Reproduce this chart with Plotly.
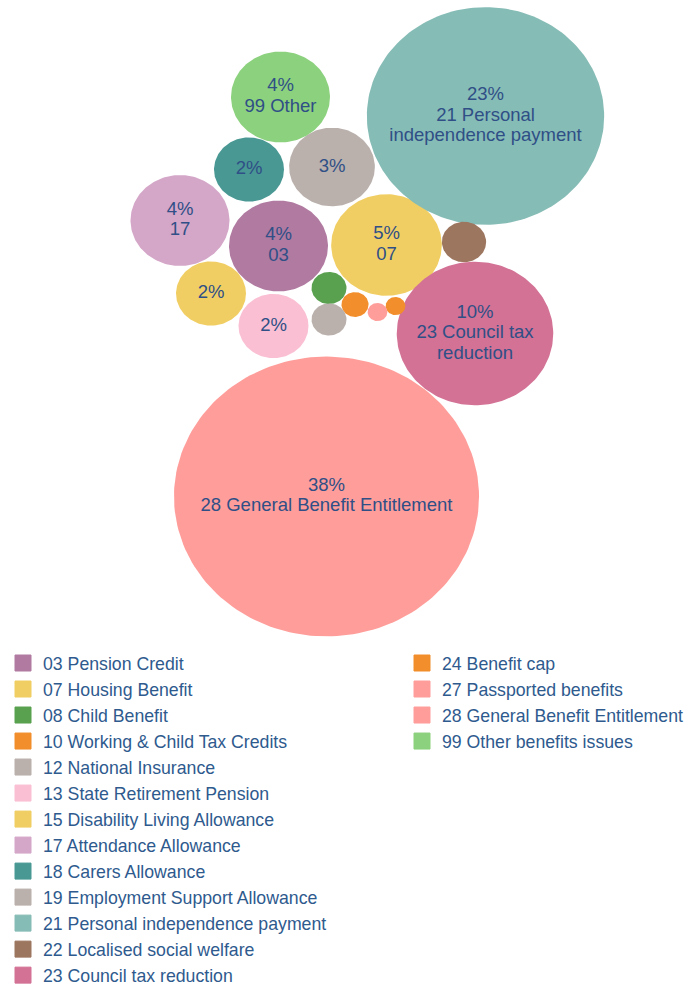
import numpy as np
import plotly.graph_objects as go

# ---- data -------------------------------------------------------------
codes = ["03", "07", "08", "10", "12", "13", "15", "17", "18", "19",
         "21", "22", "23", "24", "27", "28", "99"]
names = ["03 Pension Credit", "07 Housing Benefit", "08 Child Benefit",
         "10 Working & Child Tax Credits", "12 National Insurance",
         "13 State Retirement Pension", "15 Disability Living Allowance",
         "17 Attendance Allowance", "18 Carers Allowance",
         "19 Employment Support Allowance", "21 Personal independence payment",
         "22 Localised social welfare", "23 Council tax reduction",
         "24 Benefit cap", "27 Passported benefits",
         "28 General Benefit Entitlement", "99 Other benefits issues"]
share_pct = [4, 5, 0.5, 0.3, 0.5, 2, 2, 4, 2, 3,
             23, 0.8, 10, 0.16, 0.16, 38, 4]
# caption lines shown inside a bubble under its percentage
# ([] = percentage only, None = no label)
bubble_caption = [["03"], ["07"], None, None, None, [], [], ["17"], [], [],
                  ["21 Personal", "independence payment"], None,
                  ["23 Council tax", "reduction"], None, None,
                  ["28 General Benefit Entitlement"], ["99 Other"]]

# ---- styling / layout -------------------------------------------------
colors = ["#B07AA1", "#F1CE63", "#59A14F", "#F28E2B", "#BAB0AC", "#FABFD2",
          "#F1CE63", "#D4A6C8", "#499894", "#BAB0AC", "#86BCB6", "#9D7660",
          "#D37295", "#F28E2B", "#FF9D9A", "#FF9D9A", "#8CD17D"]
# packed-bubble centres in canvas pixels (x, y from top-left)
pack_centres = [(278.5, 246), (386.5, 245), (329, 288), (355, 304.5),
                (329, 319.5), (273.5, 326), (211, 293.5), (180, 220.5),
                (249, 169.5), (332, 167), (485.5, 116), (464, 242),
                (475, 333.5), (395.5, 306), (377.5, 312), (326.5, 496.5),
                (280.5, 97)]
W, H = 697, 985
AREA_SCALE = 22.7      # radius (px) per sqrt(percentage point)
X_STRETCH = 1.09       # horizontal stretch of the bubbles
LINE_H = 20.5          # spacing of label lines inside a bubble
TEXT_COLOR = "#2F4F86"
LEGEND_COLOR = "#2E5A8E"
FONT = "Liberation Sans, Arial, sans-serif"
LABEL_FS = 18.5
LEGEND_FS = 17.7
LEGEND_TOP = 645

fig = go.Figure()
theta = np.linspace(0, 2 * np.pi, 181)

for i, (name, v, col) in enumerate(zip(names, share_pct, colors)):
    cx, cy = pack_centres[i]
    r = AREA_SCALE * np.sqrt(v)
    fig.add_trace(go.Scatter(
        x=cx + X_STRETCH * r * np.cos(theta),
        y=cy + r * np.sin(theta),
        mode="lines", fill="toself", fillcolor=col,
        line=dict(width=0, color=col),
        name=name, showlegend=False,
        hoveron="fills", hoverinfo="text",
        text=f"{name}: {v:g}%",
    ))

# labels in the bubbles, one text point per line, stacked about the centre
lx, ly, lt = [], [], []
for i, cap in enumerate(bubble_caption):
    if cap is None:
        continue
    cx, cy = pack_centres[i]
    lines = [f"{share_pct[i]:g}%"] + cap
    n = len(lines)
    for j, line in enumerate(lines):
        lx.append(cx)
        ly.append(cy + (j - (n - 1) / 2) * LINE_H)
        lt.append(line)
fig.add_trace(go.Scatter(
    x=lx, y=ly, text=lt, mode="text", textposition="middle center",
    textfont=dict(family=FONT, size=LABEL_FS, color=TEXT_COLOR),
    showlegend=False, hoverinfo="skip",
))

# legend entries: first 13 in the left column, the rest in the right
for i, (name, col) in enumerate(zip(names, colors)):
    fig.add_trace(go.Scatter(
        x=[None], y=[None], mode="markers", name=name,
        marker=dict(symbol="square", size=16, color=col,
                    line=dict(width=1, color=col)),
        legend="legend" if i < 13 else "legend2",
    ))

legend_common = dict(
    font=dict(family=FONT, size=LEGEND_FS, color=LEGEND_COLOR),
    bgcolor="rgba(0,0,0,0)", borderwidth=0,
    xanchor="left", yanchor="top", traceorder="normal",
    itemclick=False, itemdoubleclick=False,
)

fig.update_layout(
    width=W, height=H,
    margin=dict(l=0, r=0, t=0, b=0, autoexpand=False),
    paper_bgcolor="white", plot_bgcolor="white",
    xaxis=dict(range=[0, W], visible=False, fixedrange=True),
    yaxis=dict(range=[H, 0], visible=False, fixedrange=True),
    legend=dict(x=3 / W, y=1 - LEGEND_TOP / H, **legend_common),
    legend2=dict(x=402 / W, y=1 - LEGEND_TOP / H, **legend_common),
    showlegend=True,
)

fig.write_html("out.html")
